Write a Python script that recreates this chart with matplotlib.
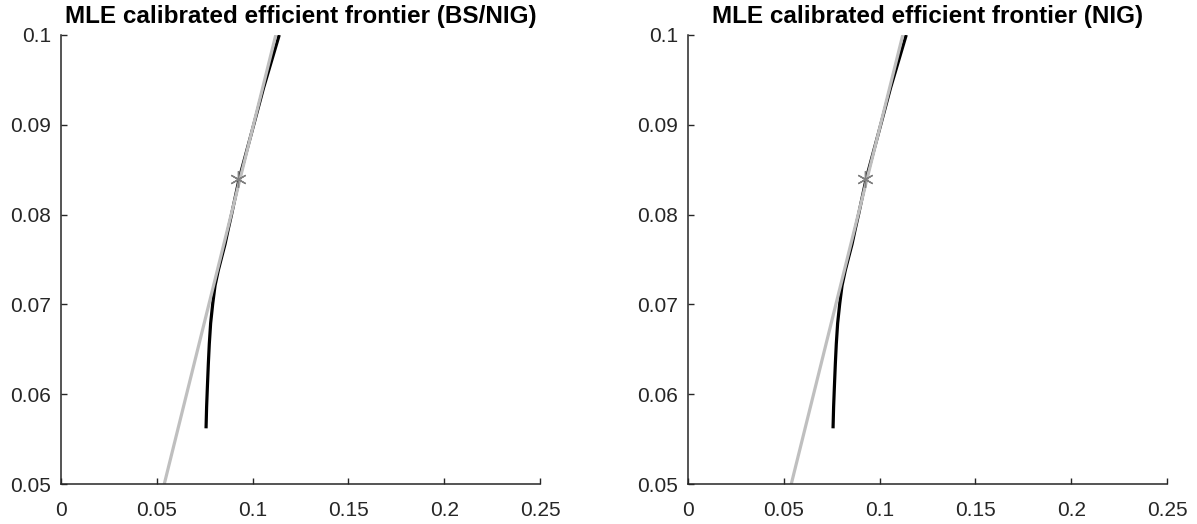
import matplotlib.pyplot as plt

# ==========================================
# Data: efficient frontier (std dev, mean return)
# ==========================================

frontier_sigma = [0.0757, 0.0760, 0.0764, 0.0769, 0.0774, 0.0781, 0.0792,
                  0.0804, 0.0821, 0.0839, 0.0856, 0.0873, 0.0891, 0.0930,
                  0.0997, 0.1057, 0.1139]
frontier_mu = [0.0562, 0.0586, 0.0608, 0.0634, 0.0656, 0.0679, 0.0701,
               0.0721, 0.0738, 0.0753, 0.0767, 0.0784, 0.0801, 0.0840,
               0.0893, 0.0941, 0.1000]

# capital market line endpoints
cml_sigma = [0.0539, 0.1121]
cml_mu = [0.0500, 0.1000]

# tangency portfolio
tangency_sigma = [0.0926]
tangency_mu = [0.0840]

titles = ["MLE calibrated efficient frontier (BS/NIG)",
          "MLE calibrated efficient frontier (NIG)"]

xticks = [0, 0.05, 0.1, 0.15, 0.2, 0.25]
xticklabels = ["0", "0.05", "0.1", "0.15", "0.2", "0.25"]
yticks = [0.05, 0.06, 0.07, 0.08, 0.09, 0.1]
yticklabels = ["0.05", "0.06", "0.07", "0.08", "0.09", "0.1"]


# ==========================================
# Plot
# ==========================================

plt.rcParams["font.family"] = ["Liberation Sans", "DejaVu Sans"]

fig = plt.figure(figsize=(11.97, 5.24), dpi=100)

axes_pos = [
    [61 / 1197, 40 / 524, 479 / 1197, 449 / 524],
    [688 / 1197, 40 / 524, 479 / 1197, 449 / 524],
]

for pos, title in zip(axes_pos, titles):
    ax = fig.add_axes(pos)

    ax.plot(frontier_sigma, frontier_mu, color="black", linewidth=2.3,
            solid_capstyle="butt", solid_joinstyle="round")
    ax.plot(cml_sigma, cml_mu, color="#bfbfbf", linewidth=2.3,
            solid_capstyle="butt")
    ax.plot(tangency_sigma, tangency_mu, linestyle="none", marker=(6, 2, 0),
            markersize=12, markeredgewidth=1.0, color="#808080")

    ax.set_xlim(0, 0.25)
    ax.set_ylim(0.05, 0.1)
    ax.set_xticks(xticks)
    ax.set_xticklabels(xticklabels)
    ax.set_yticks(yticks)
    ax.set_yticklabels(yticklabels)

    ax.spines["top"].set_visible(False)
    ax.spines["right"].set_visible(False)
    for side in ["left", "bottom"]:
        ax.spines[side].set_color("#262626")
        ax.spines[side].set_linewidth(1.1)

    ax.tick_params(direction="in", length=4, width=1.0, color="#262626",
                   labelcolor="#262626", labelsize=15)
    ax.tick_params(axis="x", pad=12)
    ax.tick_params(axis="y", pad=7)

    ax.set_title(title, fontsize=17.5, fontweight="bold", pad=9)

plt.savefig("out.png", dpi=100)
